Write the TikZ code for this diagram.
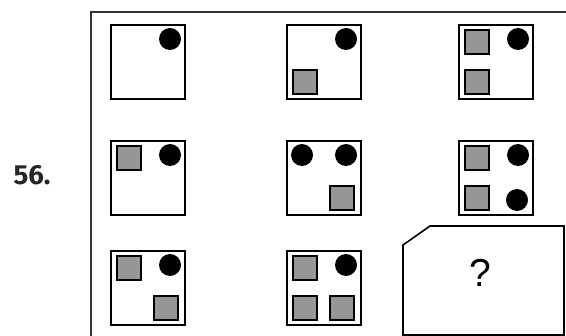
\documentclass[tikz,border=0pt]{standalone}
\usepackage{fontspec}
\usepackage{xcolor}
\newfontfamily\numfont{Fira Sans}
\newfontfamily\qfont{Liberation Sans}
\definecolor{chipgray}{RGB}{150,150,150}
\definecolor{framegray}{RGB}{50,50,50}
\usepackage{tikz}
\usetikzlibrary{positioning}

\tikzset{
  cell/.style={draw, line width=1pt, minimum size=37pt, inner sep=0pt},
  chip/.style={draw, fill=chipgray, line width=0.6pt, minimum size=12pt, inner sep=0pt},
  dot/.style={circle, fill=black, minimum size=11pt, inner sep=0pt}
}

\begin{document}
\begin{tikzpicture}[x=0.5pt, y=-0.5pt]
  \useasboundingbox (0,0) rectangle (566,336);

  % outer frame, cut off at right and bottom
  \draw[framegray, line width=1pt] (91,340) -- (91,12) -- (570,12);

  \node[font=\numfont\fontsize{13.8}{16}\selectfont\bfseries, text=black!85] (num) at (32,175) {56.};

  % row 1
  \node[cell] (c11) at (148,62) {};
  \node[dot]  (c11a) at (170,39) {};

  \node[cell] (c12) at (324,62) {};
  \node[dot]  (c12a) at (346,39) {};
  \node[chip] (c12b) at (305,82) {};

  \node[cell] (c13) at (496,62) {};
  \node[chip] (c13a) at (477,42) {};
  \node[dot]  (c13b) at (518,39) {};
  \node[chip] (c13c) at (477,82) {};

  % row 2
  \node[cell] (c21) at (148,178) {};
  \node[chip] (c21a) at (129,158) {};
  \node[dot]  (c21b) at (170,155) {};

  \node[cell] (c22) at (324,178) {};
  \node[dot]  (c22a) at (302,155) {};
  \node[dot]  (c22b) at (346,155) {};
  \node[chip] (c22c) at (342,198) {};

  \node[cell] (c23) at (496,178) {};
  \node[chip] (c23a) at (477,158) {};
  \node[dot]  (c23b) at (518,155) {};
  \node[chip] (c23c) at (477,198) {};
  \node[dot]  (c23d) at (517,200) {};

  % row 3
  \node[cell] (c31) at (148,288) {};
  \node[chip] (c31a) at (129,268) {};
  \node[dot]  (c31b) at (170,265) {};
  \node[chip] (c31c) at (166,308) {};

  \node[cell] (c32) at (324,288) {};
  \node[chip] (c32a) at (305,268) {};
  \node[dot]  (c32b) at (346,265) {};
  \node[chip] (c32c) at (305,308) {};
  \node[chip] (c32d) at (342,308) {};

  % answer box
  \draw[line width=0.8pt] (403,335) -- (403,245) -- (430,226) -- (564,226) -- (564,335) -- cycle;
  \node[font=\qfont\fontsize{19.5}{22}\selectfont] (ask) at (480,273) {?};
\end{tikzpicture}
\end{document}
